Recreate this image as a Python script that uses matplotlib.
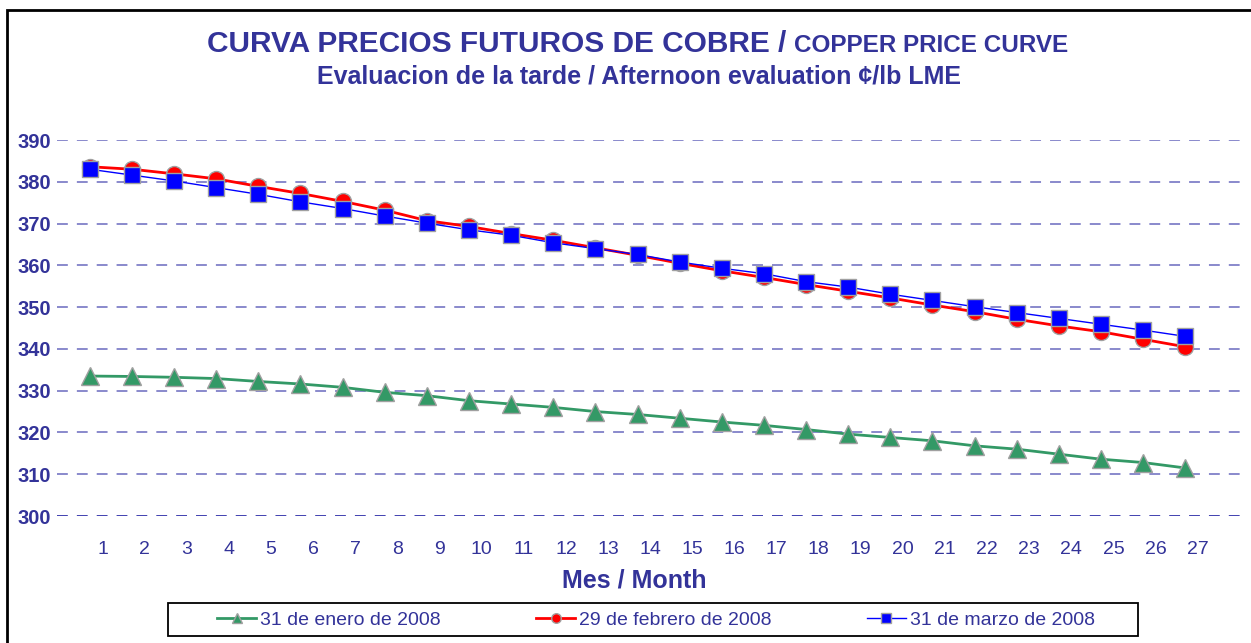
import matplotlib
matplotlib.use('Agg')
import matplotlib.pyplot as plt
import matplotlib.patches as patches
import numpy as np

plt.rcParams['font.family'] = ['Liberation Sans', 'DejaVu Sans']

# Data
months = list(range(1, 28))
enero = [333.5, 333.4, 333.2, 332.9, 332.2, 331.6, 330.8, 329.6, 328.8, 327.6,
         326.8, 326.0, 325.0, 324.3, 323.4, 322.5, 321.7, 320.7, 319.6, 318.8,
         318.0, 316.8, 316.0, 314.8, 313.6, 312.8, 311.5]
febrero = [383.6, 383.0, 381.9, 380.7, 378.9, 377.2, 375.3, 373.2, 370.7, 369.3,
           367.6, 366.0, 364.2, 362.4, 360.5, 358.7, 357.1, 355.4, 353.8, 352.2,
           350.5, 348.9, 347.1, 345.5, 344.1, 342.3, 340.5]
marzo = [383.0, 381.6, 380.2, 378.6, 377.0, 375.2, 373.6, 371.8, 370.1, 368.5,
         367.2, 365.4, 364.0, 362.6, 360.8, 359.3, 358.0, 356.1, 354.8, 353.1,
         351.6, 350.1, 348.7, 347.3, 345.9, 344.5, 343.0]
labels = ['31 de enero de 2008', '29 de febrero de 2008', '31 de marzo de 2008']

navy = '#333399'
W, H = 1251, 643

fig = plt.figure(figsize=(W / 100, H / 100), dpi=100)
ax = fig.add_axes([57 / W, 1 - 516 / H, (1245 - 57) / W, (516 - 140) / H])

# frame around the whole chart
fig.patches.append(patches.Rectangle((7 / W, -0.1), 1.2, 1 - 10 / H + 0.1,
                                     transform=fig.transFigure, fill=False,
                                     ec='black', lw=2))

edge = '#a0a0a0'
ax.plot(months, enero, '-^', color='#339966', lw=2, ms=13, mec=edge, mew=1,
        label=labels[0])
ax.plot(months, febrero, '-o', color='#ff0000', lw=2, ms=11.5, mec=edge, mew=1,
        label=labels[1])
ax.plot(months, marzo, '-s', color='#0000ff', lw=1, ms=11, mec=edge, mew=1,
        label=labels[2])

ax.set_xlim(0.22, 28.42)
ax.set_ylim(300, 390)
ax.set_yticks(np.arange(300, 391, 10))
for v in range(310, 391, 10):
    ax.axhline(v, color='#8080c8', lw=1.3, ls=(0, (6, 5)), zorder=0)
ax.axhline(300, color='#3333aa', lw=1.3, ls=(0, (6, 5)), zorder=0)

ax.set_xticks(np.array(months) + 0.3)
ax.set_xticklabels([str(m) for m in months])
ax.tick_params(axis='x', length=0, pad=18, labelsize=14, labelcolor=navy)
ax.tick_params(axis='y', length=0, pad=4, labelsize=14.5, labelcolor=navy)
for t in ax.get_yticklabels():
    t.set_fontweight('bold')
for s in ax.spines.values():
    s.set_visible(False)

fig.text(634 / W, 1 - 580 / H, 'Mes / Month', fontsize=18, fontweight='bold',
         color=navy, va='center', ha='center')

# title: two sizes on one line
t1 = fig.text(207 / W, 1 - 52 / H, 'CURVA PRECIOS FUTUROS DE COBRE / ',
              fontsize=21.5, fontweight='bold', color=navy, va='baseline',
              ha='left')
renderer = fig.canvas.get_renderer()
x_end = t1.get_window_extent(renderer).x1
fig.text(x_end / W, 1 - 52 / H, 'COPPER PRICE CURVE', fontsize=17.5,
         fontweight='bold', color=navy, va='baseline', ha='left')
fig.text(639 / W, 1 - 76 / H,
         'Evaluacion de la tarde / Afternoon evaluation \u00a2/lb LME',
         fontsize=18, fontweight='bold', color=navy, va='center', ha='center')

# legend box
fig.patches.append(patches.Rectangle((168 / W, 1 - 636 / H), (1138 - 168) / W,
                                     33 / H, transform=fig.transFigure,
                                     fill=False, ec='black', lw=1.3))
leg = fig.legend(loc='center', bbox_to_anchor=(656 / W, 1 - 620 / H), ncol=3,
                 frameon=False, fontsize=14, markerscale=0.6,
                 handlelength=2.0, handletextpad=0.2, columnspacing=4.9)
for t in leg.get_texts():
    t.set_color(navy)

fig.savefig('out.png', dpi=100)
